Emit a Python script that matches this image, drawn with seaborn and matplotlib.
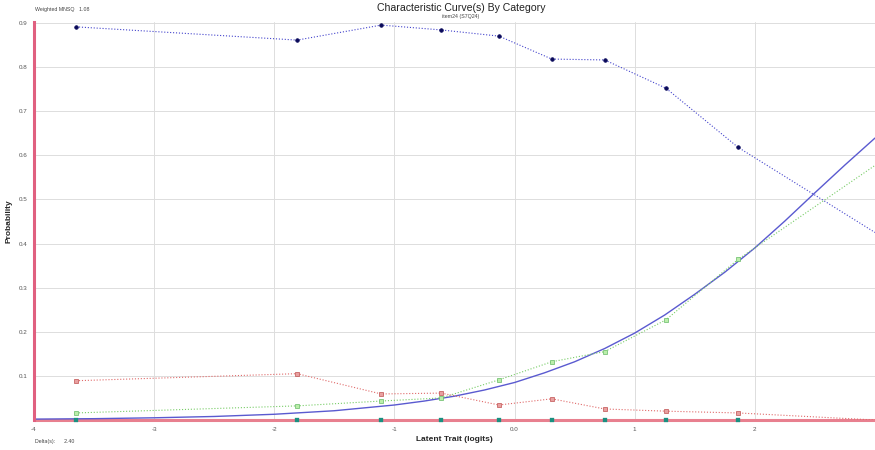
import numpy as np
import pandas as pd
import matplotlib
matplotlib.use('Agg')
import matplotlib.pyplot as plt
import seaborn as sns

sns.set_style('white')
plt.rcParams['font.family'] = ['Liberation Sans', 'DejaVu Sans']

# empirical points (logit positions of the groups)
x_emp = [-3.65, -1.81, -1.11, -0.61, -0.13, 0.31, 0.75, 1.26, 1.86, 3.0]
cat_top = [0.891, 0.861, 0.895, 0.884, 0.870, 0.818, 0.816, 0.752, 0.618, 0.425]
cat_red = [0.089, 0.105, 0.059, 0.061, 0.034, 0.048, 0.025, 0.020, 0.016, 0.0]
cat_green = [0.016, 0.032, 0.043, 0.050, 0.091, 0.132, 0.155, 0.227, 0.364, 0.577]
cat_zero = [0.0, 0.0, 0.0, 0.0, 0.0, 0.0, 0.0, 0.0, 0.0]

# model curve
x_model = [-4, -3.5, -3, -2.5, -2, -1.5, -1, -0.75, -0.5, -0.25, 0, 0.25, 0.5, 0.75,
           1, 1.25, 1.5, 1.75, 2, 2.25, 2.5, 2.75, 3]
p_model = [0.002, 0.003, 0.005, 0.008, 0.013, 0.021, 0.034, 0.043, 0.054, 0.068, 0.085,
           0.107, 0.132, 0.162, 0.197, 0.238, 0.285, 0.335, 0.39, 0.451, 0.515, 0.578, 0.639]
p_floor = [0.0] * len(x_model)

x_ticks = [-4, -3, -2, -1, 0, 1, 2, 3]
x_ticklabels = ['-4', '-3', '-2', '-1', '0.0', '1', '2', '']
y_ticks = [0.1, 0.2, 0.3, 0.4, 0.5, 0.6, 0.7, 0.8, 0.9]

df_emp = pd.DataFrame({'x': x_emp, 'top': cat_top, 'red': cat_red, 'green': cat_green})
df_mod = pd.DataFrame({'x': x_model, 'p': p_model, 'floor': p_floor})

fig = plt.figure(figsize=(8.75, 4.5), dpi=100)
ax = fig.add_axes([34 / 875, 30 / 450, 1 - 34 / 875, 398 / 450])

ax.grid(True, color='#dddddd', lw=0.7)
ax.set_axisbelow(True)

# model lines
sns.lineplot(data=df_mod, x='x', y='floor', ax=ax, color='#e8808f', lw=2.2, clip_on=False)
sns.lineplot(data=df_mod, x='x', y='p', ax=ax, color='#5a5ad0', lw=1.0)

# empirical lines
mk = list(range(9))
sns.lineplot(data=df_emp, x='x', y='top', ax=ax, color='#4444cc', lw=0.8,
             linestyle=':', marker='o', markersize=2.6, markerfacecolor='#0a0a5a',
             markeredgecolor='#0a0a5a', markeredgewidth=0.5, markevery=mk)
sns.lineplot(data=df_emp, x='x', y='red', ax=ax, color='#e06a6a', lw=0.8,
             linestyle=':', marker='s', markersize=2.6, markerfacecolor='#e8a0a0',
             markeredgecolor='#c05050', markeredgewidth=0.5, markevery=mk)
sns.lineplot(data=df_emp, x='x', y='green', ax=ax, color='#77cc66', lw=0.8,
             linestyle=':', marker='s', markersize=2.6, markerfacecolor='#bbeeaa',
             markeredgecolor='#66bb66', markeredgewidth=0.5, markevery=mk)
sns.scatterplot(x=x_emp[:9], y=cat_zero, ax=ax, color='#1a8f80', s=8, marker='s',
                edgecolor='#1a8f80', zorder=5, clip_on=False)

ax.set_xlim(-4, 3)
ax.set_ylim(0, 0.902)
ax.set_xticks(x_ticks)
ax.set_xticklabels(x_ticklabels)
ax.set_yticks(y_ticks)
ax.set_yticklabels(['%.1f' % v for v in y_ticks])
ax.tick_params(labelsize=4.5, colors='#555555', length=2, pad=3)

for s in ['top', 'right', 'bottom']:
    ax.spines[s].set_visible(False)
ax.spines['left'].set_color('#e06080')
ax.spines['left'].set_linewidth(2.2)

ax.set_xlabel('Latent Trait (logits)', fontsize=6, fontweight='bold', labelpad=3)
ax.set_ylabel('Probability', fontsize=6, fontweight='bold', labelpad=4)

fig.text(0.527, 0.982, 'Characteristic Curve(s) By Category', ha='center', va='center',
         fontsize=7.6, color='#222222')
fig.text(0.527, 0.963, 'item24 (S7Q24)', ha='center', va='center', fontsize=3.8, color='#444444')
fig.text(35 / 875, 1 - 9 / 450, 'Weighted MNSQ   1.08', ha='left', va='center',
         fontsize=3.8, color='#444444')
fig.text(35 / 875, 1 - 442 / 450, 'Delta(s):      2.40', ha='left', va='center',
         fontsize=3.8, color='#444444')

fig.savefig('out.png', dpi=100)
